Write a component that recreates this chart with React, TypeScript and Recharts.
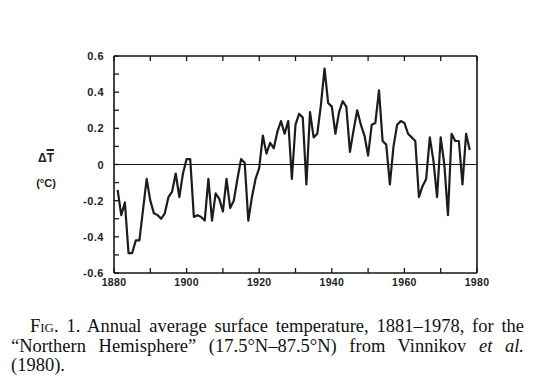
import React from "react";
import { LineChart, Line, XAxis, YAxis, ReferenceLine } from "recharts";

const years: number[] = [
  1881, 1882, 1883, 1884, 1885, 1886, 1887, 1888, 1889, 1890,
  1891, 1892, 1893, 1894, 1895, 1896, 1897, 1898, 1899, 1900,
  1901, 1902, 1903, 1904, 1905, 1906, 1907, 1908, 1909, 1910,
  1911, 1912, 1913, 1914, 1915, 1916, 1917, 1918, 1919, 1920,
  1921, 1922, 1923, 1924, 1925, 1926, 1927, 1928, 1929, 1930,
  1931, 1932, 1933, 1934, 1935, 1936, 1937, 1938, 1939, 1940,
  1941, 1942, 1943, 1944, 1945, 1946, 1947, 1948, 1949, 1950,
  1951, 1952, 1953, 1954, 1955, 1956, 1957, 1958, 1959, 1960,
  1961, 1962, 1963, 1964, 1965, 1966, 1967, 1968, 1969, 1970,
  1971, 1972, 1973, 1974, 1975, 1976, 1977, 1978,
];

const anomalies: number[] = [
  -0.14, -0.28, -0.21, -0.49, -0.49, -0.42, -0.42, -0.25, -0.08, -0.2,
  -0.27, -0.28, -0.3, -0.27, -0.18, -0.15, -0.05, -0.18, -0.05, 0.03,
  0.03, -0.29, -0.28, -0.29, -0.31, -0.08, -0.31, -0.16, -0.19, -0.26,
  -0.08, -0.24, -0.2, -0.08, 0.03, 0.01, -0.31, -0.18, -0.08, -0.02,
  0.16, 0.06, 0.12, 0.09, 0.18, 0.24, 0.17, 0.24, -0.08, 0.22,
  0.28, 0.26, -0.11, 0.29, 0.15, 0.17, 0.33, 0.53, 0.34, 0.32,
  0.17, 0.29, 0.35, 0.32, 0.07, 0.19, 0.3, 0.22, 0.16, 0.05,
  0.22, 0.23, 0.41, 0.13, 0.11, -0.11, 0.1, 0.22, 0.24, 0.23,
  0.17, 0.15, 0.13, -0.18, -0.12, -0.08, 0.15, 0.02, -0.18, 0.15,
  0.0, -0.28, 0.17, 0.13, 0.13, -0.11, 0.17, 0.08,
];

const xTicks: number[] = [1880, 1890, 1900, 1910, 1920, 1930, 1940, 1950, 1960, 1970, 1980];
const xLabelTicks: number[] = [1880, 1900, 1920, 1940, 1960, 1980];
const yTicks: number[] = [-0.6, -0.5, -0.4, -0.3, -0.2, -0.1, 0, 0.1, 0.2, 0.3, 0.4, 0.5, 0.6];
const yLabelTicks: number[] = [-0.6, -0.4, -0.2, 0, 0.2, 0.4, 0.6];

const data = years.map((y, i) => ({ year: y, value: anomalies[i] }));

const INK = "#161616";
const tickFont = { fontFamily: "'Liberation Sans', Arial, sans-serif", fontSize: 11, fontWeight: 700, fill: "#222" };

const fmtY = (v: number) => {
  if (Math.abs(v) < 1e-9) return "0";
  return (v < 0 ? "-" : "") + Math.abs(v).toFixed(1);
};

const hasLabel = (list: number[], v: number) => list.some((t) => Math.abs(t - v) < 1e-6);

const BottomTick = (props: any) => {
  const { x, y, payload } = props;
  const v = payload.value;
  return (
    <g>
      <line x1={x} y1={y} x2={x} y2={y - 5} stroke={INK} strokeWidth={1.3} />
      {hasLabel(xLabelTicks, v) && (
        <text x={x} y={y + 13} textAnchor="middle" {...tickFont} fontSize={10.5} letterSpacing={0.3}>
          {String(v)}
        </text>
      )}
    </g>
  );
};

const TopTick = (props: any) => {
  const { x, y } = props;
  return <line x1={x} y1={y} x2={x} y2={y + 5} stroke={INK} strokeWidth={1.3} />;
};

const LeftTick = (props: any) => {
  const { x, y, payload } = props;
  const v = payload.value;
  return (
    <g>
      <line x1={x} y1={y} x2={x + 5} y2={y} stroke={INK} strokeWidth={1.3} />
      {hasLabel(yLabelTicks, v) && (
        <text x={x - 10} y={y + 4} textAnchor="end" {...tickFont} letterSpacing={0.5}>
          {fmtY(v)}
        </text>
      )}
    </g>
  );
};

const RightTick = (props: any) => {
  const { x, y } = props;
  return <line x1={x} y1={y} x2={x - 5} y2={y} stroke={INK} strokeWidth={1.3} />;
};

const captionBase: React.CSSProperties = {
  position: "absolute",
  fontFamily: "'Liberation Serif', 'Times New Roman', serif",
  fontSize: 18.5,
  lineHeight: "20px",
  color: "#111",
  whiteSpace: "nowrap",
};

export default function App() {
  return (
    <div style={{ position: "absolute", left: 0, top: 0, width: 555, height: 383, background: "#fff" }}>
      <LineChart
        width={555}
        height={300}
        data={data}
        margin={{ top: 55, right: 77, bottom: 7, left: 74 }}
      >
        <XAxis
          dataKey="year"
          type="number"
          domain={[1880, 1980]}
          ticks={xTicks}
          interval={0}
          tickSize={0}
          tickMargin={0}
          tickLine={false}
          height={20}
          axisLine={{ stroke: INK, strokeWidth: 1.6 }}
          tick={<BottomTick />}
        />
        <XAxis
          xAxisId="top"
          orientation="top"
          dataKey="year"
          type="number"
          domain={[1880, 1980]}
          ticks={xTicks}
          interval={0}
          tickSize={0}
          tickMargin={0}
          tickLine={false}
          height={1}
          axisLine={{ stroke: INK, strokeWidth: 1.6 }}
          tick={<TopTick />}
        />
        <YAxis
          type="number"
          domain={[-0.6, 0.6]}
          ticks={yTicks}
          interval={0}
          tickSize={0}
          tickMargin={0}
          tickLine={false}
          width={40}
          axisLine={{ stroke: INK, strokeWidth: 1.6 }}
          tick={<LeftTick />}
        />
        <YAxis
          yAxisId="right"
          orientation="right"
          type="number"
          domain={[-0.6, 0.6]}
          ticks={yTicks}
          interval={0}
          tickSize={0}
          tickMargin={0}
          tickLine={false}
          width={1}
          axisLine={{ stroke: INK, strokeWidth: 1.6 }}
          tick={<RightTick />}
        />
        <ReferenceLine y={0} stroke={INK} strokeWidth={1} />
        <Line
          type="linear"
          dataKey="value"
          stroke="#1c1c1c"
          strokeWidth={2.2}
          dot={false}
          isAnimationActive={false}
          strokeLinejoin="round"
        />
      </LineChart>
      <div
        style={{
          position: "absolute",
          left: 31,
          top: 150,
          fontFamily: "'Liberation Sans', Arial, sans-serif",
          fontSize: 11,
          fontWeight: 700,
          color: "#222",
          textAlign: "center",
          lineHeight: "16px",
          width: 30,
        }}
      >
        <div style={{ fontSize: 12 }}>
          {"\u0394"}
          <span style={{ textDecoration: "overline", textDecorationThickness: 1.5 }}>T</span>
        </div>
        <div style={{ marginTop: 9 }}>(°C)</div>
      </div>
      <div style={{ ...captionBase, left: 30, top: 316, width: 494, textAlign: "justify", textAlignLast: "justify" }}>
        <span style={{ fontVariant: "small-caps" }}>Fig.</span> 1. Annual average surface temperature, 1881–1978, for the
      </div>
      <div style={{ ...captionBase, left: 11, top: 336, width: 513, textAlign: "justify", textAlignLast: "justify" }}>
        “Northern Hemisphere” (17.5°N–87.5°N) from Vinnikov <i>et al.</i>
      </div>
      <div style={{ ...captionBase, left: 11, top: 355 }}>(1980).</div>
    </div>
  );
}
